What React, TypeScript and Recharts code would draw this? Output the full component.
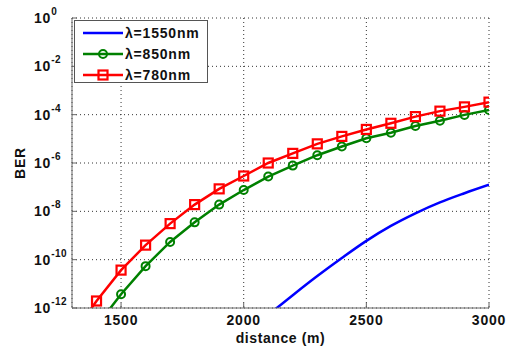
import React from 'react';
import { LineChart, Line, XAxis, YAxis, CartesianGrid, Legend } from 'recharts';

const distance = [1300, 1400, 1500, 1600, 1700, 1800, 1900, 2000, 2100, 2200, 2300, 2400, 2500, 2600, 2700, 2800, 2900, 3000];
const ber1550 = [null, null, null, null, null, null, null, null, 5.2e-13, 3.4e-12, 2.1e-11, 1.17e-10, 6.0e-10, 2.5e-9, 8.3e-9, 2.34e-8, 5.6e-8, 1.26e-7];
const ber850 = [null, 1.8e-13, 3.7e-12, 5.4e-11, 5.4e-10, 3.5e-9, 1.9e-8, 7.6e-8, 2.75e-7, 7.8e-7, 2.1e-6, 4.8e-6, 1.05e-5, 1.8e-5, 3.4e-5, 5.6e-5, 9.8e-5, 1.55e-4];
const ber780 = [7.1e-14, 1.95e-12, 3.7e-11, 4.0e-10, 3.1e-9, 1.9e-8, 8.5e-8, 2.9e-7, 1.0e-6, 2.5e-6, 6.2e-6, 1.26e-5, 2.45e-5, 4.4e-5, 8.3e-5, 1.4e-4, 2.1e-4, 3.3e-4];

const xTicks = [1500, 2000, 2500, 3000];
const yTicks = [1, 1e-2, 1e-4, 1e-6, 1e-8, 1e-10, 1e-12];

const seriesNames = ['\u03bb=1550nm', '\u03bb=850nm', '\u03bb=780nm'];
const seriesKeys = ['b1550', 'b850', 'b780'];
const seriesColors = ['#0000ff', '#008000', '#ff0000'];
const seriesMarkers = ['none', 'circle', 'square'];

const data = distance.map((d, i) => ({ distance: d, b1550: ber1550[i], b850: ber850[i], b780: ber780[i] }));

const FONT = '"Liberation Sans", Arial, Helvetica, sans-serif';

const XTickBottom = (props: any) => {
  const { x, y, payload } = props;
  return (
    <g>
      <line x1={x} y1={y} x2={x} y2={y - 5} stroke="#666" strokeWidth={1} />
      <text x={x} y={y + 17} textAnchor="middle" fontFamily={FONT} fontWeight="bold" fontSize={14} letterSpacing={0.8} fill="#111">
        {payload.value}
      </text>
    </g>
  );
};

const XTickTop = (props: any) => {
  const { x, y } = props;
  return <line x1={x} y1={y} x2={x} y2={y + 5} stroke="#666" strokeWidth={1} />;
};

const YTickLeft = (props: any) => {
  const { x, y, payload } = props;
  const exp = Math.round(Math.log10(payload.value));
  return (
    <g>
      <line x1={x} y1={y} x2={x + 5} y2={y} stroke="#666" strokeWidth={1} />
      <text x={x - 38} y={y + 5} fontFamily={FONT} fontWeight="bold" fontSize={14} letterSpacing={0.8} fill="#111">
        <tspan>10</tspan>
        <tspan dy={-8} fontSize={10} letterSpacing={0.5}>{String(exp)}</tspan>
      </text>
    </g>
  );
};

const YTickRight = (props: any) => {
  const { x, y } = props;
  return <line x1={x} y1={y} x2={x - 5} y2={y} stroke="#666" strokeWidth={1} />;
};

const CircleDot = (props: any) => {
  const { cx, cy, stroke } = props;
  if (cx == null || cy == null) return null;
  return <circle cx={cx} cy={cy} r={4} fill="none" stroke={stroke} strokeWidth={2} />;
};

const SquareDot = (props: any) => {
  const { cx, cy, stroke } = props;
  if (cx == null || cy == null) return null;
  return <rect x={cx - 4.5} y={cy - 4.5} width={9} height={9} fill="none" stroke={stroke} strokeWidth={2.2} />;
};

const LegendContent = () => (
  <div
    style={{
      width: 134,
      height: 63,
      boxSizing: 'border-box',
      border: '1px solid #555',
      background: '#fff',
      paddingTop: 1,
      fontFamily: FONT,
    }}
  >
    {seriesNames.map((name, i) => (
      <div key={name} style={{ display: 'flex', alignItems: 'center', height: 21 }}>
        <svg width={40} height={14} style={{ marginLeft: 8, display: 'block' }}>
          <line x1={0} y1={7} x2={40} y2={7} stroke={seriesColors[i]} strokeWidth={2.5} />
          {seriesMarkers[i] === 'circle' && <circle cx={20} cy={7} r={4} fill="none" stroke={seriesColors[i]} strokeWidth={2} />}
          {seriesMarkers[i] === 'square' && <rect x={15.5} y={2.5} width={9} height={9} fill="none" stroke={seriesColors[i]} strokeWidth={2.2} />}
        </svg>
        <span style={{ marginLeft: 2, fontSize: 14, fontWeight: 'bold', letterSpacing: 0.8, color: '#111', lineHeight: '14px' }}>{name}</span>
      </div>
    ))}
  </div>
);

export default function App() {
  return (
    <div style={{ position: 'absolute', left: 0, top: 0, width: 508, height: 349, background: '#fff' }}>
      <LineChart width={508} height={349} data={data} margin={{ top: 18, right: 19, left: 0, bottom: 0 }}>
        <CartesianGrid stroke="#333" strokeDasharray="1 3" strokeWidth={1} />
        <XAxis
          dataKey="distance"
          type="number"
          domain={[1300, 3000]}
          ticks={xTicks}
          allowDataOverflow
          height={41}
          tickSize={0}
          tickMargin={0}
          tickLine={false}
          axisLine={{ stroke: '#666', strokeWidth: 1 }}
          tick={<XTickBottom />}
          interval={0}
          label={{
            content: (p: any) => {
              const vb = p.viewBox;
              return (
                <text x={vb.x + vb.width / 2} y={vb.y + 35} textAnchor="middle" fontFamily={FONT} fontWeight="bold" fontSize={14} letterSpacing={0.6} fill="#111">
                  distance (m)
                </text>
              );
            },
          }}
        />
        <XAxis
          xAxisId="top"
          orientation="top"
          dataKey="distance"
          type="number"
          domain={[1300, 3000]}
          ticks={xTicks}
          allowDataOverflow
          height={0}
          tickSize={0}
          tickMargin={0}
          tickLine={false}
          axisLine={{ stroke: '#666', strokeWidth: 1 }}
          tick={<XTickTop />}
          interval={0}
        />
        <YAxis
          scale="log"
          type="number"
          domain={[1e-12, 1]}
          ticks={yTicks}
          allowDataOverflow
          width={72}
          tickSize={0}
          tickMargin={0}
          tickLine={false}
          axisLine={{ stroke: '#666', strokeWidth: 1 }}
          tick={<YTickLeft />}
          interval={0}
          label={{
            content: (p: any) => {
              const vb = p.viewBox;
              const cx = vb.x + 25;
              const cy = vb.y + vb.height / 2;
              return (
                <text x={cx} y={cy} transform={`rotate(-90, ${cx}, ${cy})`} textAnchor="middle" fontFamily={FONT} fontWeight="bold" fontSize={14} letterSpacing={0.8} fill="#111">
                  BER
                </text>
              );
            },
          }}
        />
        <YAxis
          yAxisId="right"
          orientation="right"
          scale="log"
          type="number"
          domain={[1e-12, 1]}
          ticks={yTicks}
          allowDataOverflow
          width={0}
          tickSize={0}
          tickMargin={0}
          tickLine={false}
          axisLine={{ stroke: '#666', strokeWidth: 1 }}
          tick={<YTickRight />}
          interval={0}
        />
        <Legend
          layout="vertical"
          align="center"
          verticalAlign="middle"
          content={<LegendContent />}
          wrapperStyle={{ position: 'absolute', left: 74, top: 20, width: 134, height: 63 }}
        />
        <Line
          dataKey={seriesKeys[0]}
          name={seriesNames[0]}
          type="monotone"
          stroke={seriesColors[0]}
          strokeWidth={2.5}
          dot={false}
          activeDot={false}
          isAnimationActive={false}
        />
        <Line
          dataKey={seriesKeys[1]}
          name={seriesNames[1]}
          type="linear"
          stroke={seriesColors[1]}
          strokeWidth={2.5}
          dot={<CircleDot />}
          activeDot={false}
          isAnimationActive={false}
        />
        <Line
          dataKey={seriesKeys[2]}
          name={seriesNames[2]}
          type="linear"
          stroke={seriesColors[2]}
          strokeWidth={2.5}
          dot={<SquareDot />}
          activeDot={false}
          isAnimationActive={false}
        />
      </LineChart>
    </div>
  );
}
